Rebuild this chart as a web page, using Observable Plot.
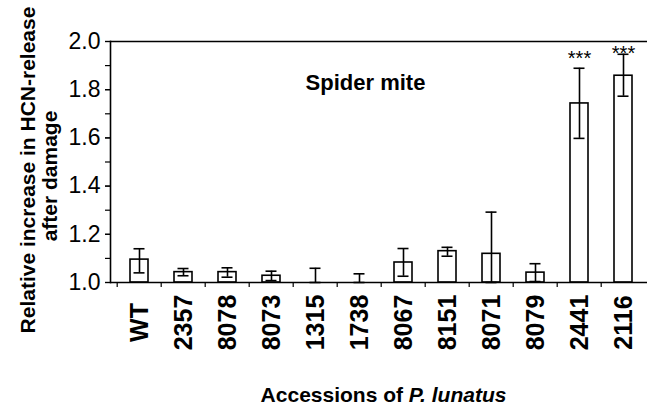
<!DOCTYPE html>
<html>
<head>
<meta charset="utf-8">
<script src="https://cdn.jsdelivr.net/npm/d3@7"></script>
<script src="https://cdn.jsdelivr.net/npm/@observablehq/plot@0.6"></script>
<style>
  html, body { margin: 0; padding: 0; background: white; }
  #chart svg { display: block; }
</style>
</head>
<body>
<div id="chart"></div>
<script>
// ---- data ----
const categories = ["WT","2357","8078","8073","1315","1738","8067","8151","8071","8079","2441","2116"];
const means   = [1.095, 1.043, 1.043, 1.028, 1.000, 1.000, 1.083, 1.130, 1.119, 1.041, 1.743, 1.858];
const errLow  = [1.040, 1.028, 1.022, 1.008, 1.000, 1.000, 1.026, 1.109, 1.000, 1.004, 1.598, 1.773];
const errHigh = [1.140, 1.058, 1.061, 1.047, 1.059, 1.036, 1.141, 1.146, 1.292, 1.078, 1.889, 1.947];
const sigCats   = ["2441", "2116"];
const sigLabels = ["***", "***"];
const sigY      = [1.950, 1.972];
const yMajorTicks = [1.0, 1.2, 1.4, 1.6, 1.8, 2.0];
const yMinorTicks = [1.0, 1.1, 1.2, 1.3, 1.4, 1.5, 1.6, 1.7, 1.8, 1.9, 2.0];
const panelLabel = "Spider mite";
const yTitle1 = "Relative increase in HCN-release";
const yTitle2 = "after damage";
const xTitleA = "Accessions of";
const xTitleB = "P. lunatus";

const data = categories.map((c, i) => ({cat: c, mean: means[i], lo: errLow[i], hi: errHigh[i]}));
const sig = sigCats.map((c, i) => ({cat: c, label: sigLabels[i], y: sigY[i]}));

const W = 647, H = 413;
const xRange = [112.7, 648];
const step = (xRange[1] - xRange[0]) / categories.length;
const font = "'Liberation Sans', Arial, Helvetica, sans-serif";

const chart = Plot.plot({
  width: W,
  height: H,
  marginLeft: 110,
  marginRight: 0,
  marginTop: 41,
  marginBottom: 131,
  style: {fontFamily: font, color: "black", background: "white", overflow: "visible"},
  x: {domain: categories, range: xRange, paddingInner: 0.6, paddingOuter: 0.3, axis: null},
  y: {domain: [1, 2], axis: null},
  marks: [
    // bars
    Plot.barY(data, {x: "cat", y1: () => 1, y2: "mean", fill: "white", stroke: "black", strokeWidth: 1.6}),
    // error bars
    Plot.ruleX(data, {x: "cat", y1: "lo", y2: "hi", stroke: "black", strokeWidth: 1.6}),
    Plot.tickY(data, {x: "cat", y: "hi", stroke: "black", strokeWidth: 1.6, insetLeft: 3.5, insetRight: 3.5}),
    Plot.tickY(data, {x: "cat", y: "lo", stroke: "black", strokeWidth: 1.6, insetLeft: 3.5, insetRight: 3.5}),
    // frame lines
    Plot.ruleY([1, 2], {stroke: "black", strokeWidth: 1.6}),
    Plot.frame({anchor: "left", stroke: "black", strokeWidth: 1.6}),
    // y axis
    Plot.axisY({ticks: yMinorTicks, tickSize: 5, tickFormat: () => "", label: null, strokeWidth: 1.2}),
    Plot.axisY({ticks: yMajorTicks, tickSize: 5, tickPadding: 5, tickFormat: d3.format(".1f"), label: null,
                fontSize: 23, strokeWidth: 1.2}),
    // x tick marks at band boundaries
    Plot.axisX({tickSize: 5, tickFormat: () => "", label: null, dx: -step / 2, strokeWidth: 1.2}),
    // x tick labels
    Plot.text(data, {x: "cat", frameAnchor: "bottom", text: "cat", rotate: -90, textAnchor: "middle",
                     lineAnchor: "middle", dy: 40, fontSize: 25, fontWeight: "bold"}),
    // significance stars
    Plot.text(sig, {x: "cat", y: "y", text: "label", fontSize: 20, lineAnchor: "middle", dy: 5}),
    // panel label
    Plot.text([panelLabel], {x: () => "1738", y: () => 1.826, text: d => d, fontSize: 22, fontWeight: "bold", dx: 6}),
    // y title
    Plot.text([yTitle1], {frameAnchor: "left", text: d => d, rotate: -90, textAnchor: "middle", dx: -82, dy: 8,
                          fontSize: 21, fontWeight: "bold"}),
    Plot.text([yTitle2], {frameAnchor: "left", text: d => d, rotate: -90, textAnchor: "middle", dx: -60, dy: 14,
                          fontSize: 21, fontWeight: "bold"}),
    // x title
    Plot.text([xTitleA], {frameAnchor: "bottom", text: d => d, textAnchor: "end", dx: 24, dy: 119,
                          fontSize: 21, fontWeight: "bold"}),
    Plot.text([xTitleB], {frameAnchor: "bottom", text: d => d, textAnchor: "start", dx: 29.8, dy: 119,
                          fontSize: 21, fontWeight: "bold", fontStyle: "italic"})
  ]
});
document.getElementById("chart").appendChild(chart);
</script>
</body>
</html>
